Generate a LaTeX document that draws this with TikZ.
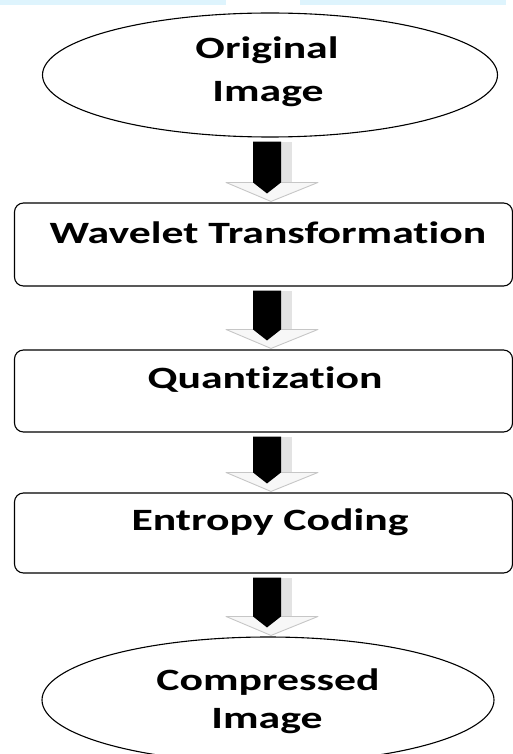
\documentclass[tikz,border=0pt]{standalone}
\usepackage{fontspec}
\setmainfont{Carlito}[FakeStretch=1.41, Ligatures=NoCommon]
\usetikzlibrary{shapes.geometric,calc}
\tikzset{
  procbox/.style={draw, line width=1.1pt, rounded corners=9pt, minimum width=498pt, inner sep=0pt},
  oval/.style={draw, ellipse, line width=1.1pt, inner sep=0pt},
  lbl/.style={font=\fontsize{31}{34}\selectfont\bfseries, inner sep=0pt, anchor=base},
  arrshadow/.style={fill=gray!22},
  chevron/.style={fill=gray!6, draw=gray!45, line width=0.9pt, line join=round},
}
\newcommand\blockarrow[2]{%
  \fill[arrshadow] let \p1=($(#1)+(0,4)$), \p2=($(#2)+(0,-1)$) in (281pt,\y1) rectangle (292pt,\y2+15pt);
  \filldraw[chevron] let \p2=($(#2)+(0,-1)$) in (226pt,\y2+19pt) -- (318pt,\y2+19pt) -- (271pt,\y2) -- cycle;
  \fill[black] let \p1=($(#1)+(0,4)$), \p2=($(#2)+(0,-1)$) in (253pt,\y1) -- (281pt,\y1) -- (281pt,\y2+19pt) -- (267pt,\y2+8pt) -- (253pt,\y2+19pt) -- cycle;
}
\begin{document}
\begin{tikzpicture}[x=1pt,y=-1pt]
\useasboundingbox (0,0) rectangle (513,754);
\clip (0,0) rectangle (513,754);
\fill[cyan!13] (0,0) rectangle (226,5);
\fill[cyan!13] (300,0) rectangle (506,5);

\node[oval, minimum width=455pt, minimum height=124pt] (e1) at (270,75) {};
\node[lbl] (t1a) at (267,59) {Original};
\node[lbl] (t1b) at (268,102) {Image};

\node[procbox, minimum height=83pt] (b1) at (263.5,244.5) {};
\node[lbl] (t2) at (268,243) {Wavelet Transformation};

\node[procbox, minimum height=82pt] (b2) at (263.5,391) {};
\node[lbl] (t3) at (265,388) {Quantization};

\node[procbox, minimum height=80pt] (b3) at (263.5,533) {};
\node[lbl] (t4) at (270,530) {Entropy Coding};

\node[oval, minimum width=452pt, minimum height=126pt] (e2) at (268,700) {};
\node[lbl] (t5a) at (268,690) {Compressed};
\node[lbl] (t5b) at (267,728) {Image};

\blockarrow{e1.south}{b1.north}
\blockarrow{b1.south}{b2.north}
\blockarrow{b2.south}{b3.north}
\blockarrow{b3.south}{e2.north}
\end{tikzpicture}
\end{document}
